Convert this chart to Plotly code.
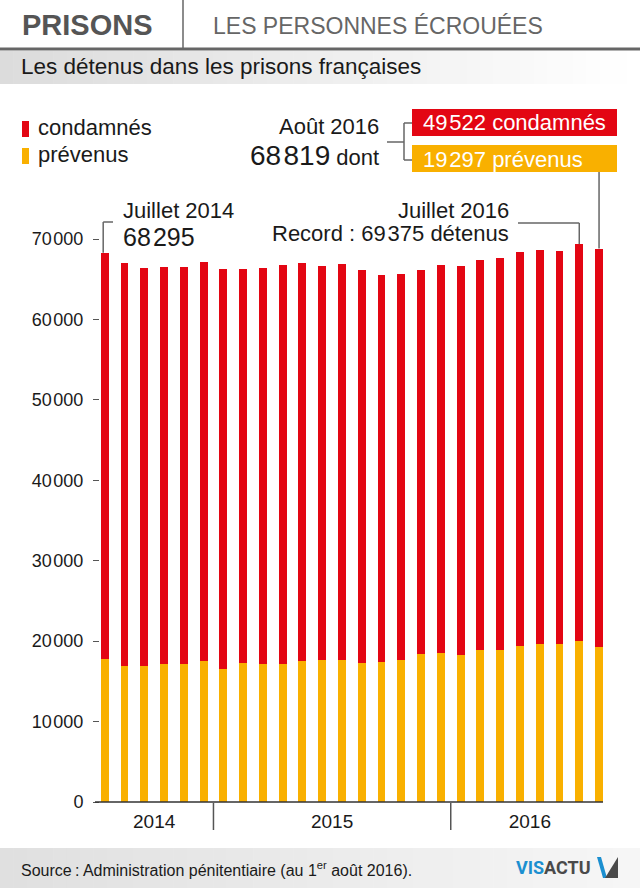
import plotly.graph_objects as go

# ---------------- data ----------------
months = ["2014-07", "2014-08", "2014-09", "2014-10", "2014-11", "2014-12",
          "2015-01", "2015-02", "2015-03", "2015-04", "2015-05", "2015-06",
          "2015-07", "2015-08", "2015-09", "2015-10", "2015-11", "2015-12",
          "2016-01", "2016-02", "2016-03", "2016-04", "2016-05", "2016-06",
          "2016-07", "2016-08"]
condamnes = [50495, 50079, 49413, 49329, 49330, 49542,
             49700, 49001, 49286, 49619, 49377, 48995,
             49202, 48795, 48043, 48080, 47757, 48210,
             48455, 48380, 48630, 48957, 48999, 48913,
             49295, 49522]
prevenus = [17800, 16970, 16930, 17140, 17180, 17550,
            16560, 17300, 17140, 17140, 17590, 17680,
            17640, 17300, 17470, 17640, 18420, 18590,
            18220, 18960, 18960, 19380, 19670, 19590,
            20080, 19297]
years = ["2014", "2015", "2016"]
year_tick_pos = [2.5, 11.5, 21.5]
year_separators = [5.5, 17.5]
ytick_vals = [0, 10000, 20000, 30000, 40000, 50000, 60000, 70000]

RED = "#e30613"
ORANGE = "#f9b000"
FONT = "Liberation Sans, Arial, sans-serif"
W, H = 640, 888
ML, MR, MT, MB = 100, 37, 223, 86
XR = [-0.238, 25.2]
YMAX = 72000

totals = [c + p for c, p in zip(condamnes, prevenus)]
xs = list(range(len(months)))


def fmt(v):
    return f"{v:,}".replace(",", "\u200a")


PW = W - ML - MR
PH = H - MT - MB


def px(p):
    return (p - ML) / PW


def py(p):
    return (H - MB - p) / PH


def dx(i):
    return (i - XR[0]) / (XR[1] - XR[0])


def dy(v):
    return v / YMAX


fig = go.Figure()
fig.add_bar(x=xs, y=prevenus, name="prévenus", marker_color=ORANGE,
            marker_line_width=0, width=0.4, hovertext=months)
fig.add_bar(x=xs, y=condamnes, name="condamnés", marker_color=RED,
            marker_line_width=0, width=0.4, hovertext=months)

shapes = []
ann = []


def line(x0, y0, x1, y1, color="#666", w=1.5):
    shapes.append(dict(type="line", xref="paper", yref="paper", x0=x0, y0=y0,
                       x1=x1, y1=y1, line=dict(color=color, width=w)))


def rect(x0, y0, x1, y1, color):
    shapes.append(dict(type="rect", xref="paper", yref="paper", x0=x0, y0=y0,
                       x1=x1, y1=y1, fillcolor=color, line_width=0, layer="below"))


def text(t, x, y, size=22, color="#1a1a1a", xanchor="left", family=FONT):
    ann.append(dict(text=t, xref="paper", yref="paper", x=x, y=y, xanchor=xanchor,
                    yanchor="middle", showarrow=False,
                    font=dict(size=size, color=color, family=family)))


def grad(x0p, x1p, y0p, y1p, c0, c1, n=48):
    for k in range(n):
        t = k / (n - 1)
        c = tuple(int(round(a + (b - a) * t)) for a, b in zip(c0, c1))
        xa = x0p + (x1p - x0p) * k / n
        xb = x0p + (x1p - x0p) * (k + 1) / n + 0.5
        rect(px(xa), py(y0p), px(xb), py(y1p), "rgb(%d,%d,%d)" % c)


# header
line(px(183), py(0), px(183), py(48), "#666", 1.5)
line(px(0), py(49), px(640), py(49), "#666", 3)
text("<b>PRISONS</b>", px(20), py(25), 29, "#555")
text("LES PERSONNES ÉCROUÉES", px(211), py(26), 23, "#666")
grad(0, 640, 51, 84, (220, 220, 220), (255, 255, 255))
text("Les détenus dans les prisons françaises", px(19), py(67), 22.5, "#1a1a1a")

# legend
rect(px(22), py(121), px(29), py(137), RED)
rect(px(22), py(148), px(29), py(164), ORANGE)
text("condamnés", px(36), py(127), 22)
text("prévenus", px(36), py(154), 22)

# August 2016 block
last = len(months) - 1
text("Août 2016", px(381), py(126), 22, xanchor="right")
text("<span style='font-size:28px'>" + fmt(totals[last]) + "</span> dont",
     px(381), py(156), 22, xanchor="right")
line(px(387), py(142), px(404), py(142))
line(px(404), py(123), px(404), py(160))
line(px(404), py(123), px(412), py(123))
line(px(404), py(160), px(412), py(160))
rect(px(412), py(109), px(617), py(136), RED)
rect(px(412), py(145), px(617), py(172), ORANGE)
text(fmt(condamnes[last]) + " condamnés", px(421), py(123), 22, "white")
text(fmt(prevenus[last]) + " prévenus", px(421), py(159), 22, "white")
line(dx(last), dy(totals[last]), dx(last), py(172))

# July 2014
text("Juillet 2014", px(121), py(210), 22)
text(fmt(totals[0]), px(121), py(237), 25)
line(dx(0) - 0.003, dy(totals[0]), dx(0) - 0.003, py(222))
line(dx(0) - 0.003, py(222), px(113), py(222))

# record July 2016
rec = max(range(len(totals)), key=lambda i: totals[i])
text("Juillet 2016", px(511), py(210), 22, xanchor="right")
text("Record\u00a0: " + fmt(totals[rec]) + " détenus", px(511), py(233), 22, xanchor="right")
line(dx(rec), dy(totals[rec]), dx(rec), py(223))
line(dx(rec), py(223), px(518), py(223))

# baseline and year separators
line(px(95), 0, px(603), 0, "#333", 1.5)
for s in year_separators:
    line(dx(s), py(803), dx(s), py(830), "#555", 1.5)

# footer
grad(0, 640, 848, 888, (224, 224, 224), (246, 246, 246))
text("Source\u2009: Administration pénitentiaire (au 1<sup>er</sup> août 2016).",
     px(19), py(869), 16, "#1a1a1a")
text("<b><span style='color:#1b8fd0'>VIS</span>ACTU</b>", px(593), py(867), 18, "#4a4a4a",
     xanchor="right", family="Liberation Sans Narrow, Arial Narrow, Roboto, sans-serif")
shapes.append(dict(type="path", xref="paper", yref="paper",
                   path="M %f,%f L %f,%f L %f,%f L %f,%f Z" % (
                       px(597), py(857), px(601), py(857), px(607), py(878), px(603), py(878)),
                   fillcolor="#1b8fd0", line_width=0))
shapes.append(dict(type="path", xref="paper", yref="paper",
                   path="M %f,%f L %f,%f L %f,%f Z" % (
                       px(605), py(878), px(618), py(857), px(618), py(878)),
                   fillcolor="#4a4a4a", line_width=0))

fig.update_layout(
    width=W, height=H, margin=dict(l=ML, r=MR, t=MT, b=MB),
    barmode="stack", showlegend=False,
    paper_bgcolor="white", plot_bgcolor="white",
    font=dict(family=FONT, color="#1a1a1a"),
    shapes=shapes, annotations=ann,
    xaxis=dict(range=XR, showgrid=False, zeroline=False, showline=False,
               tickvals=year_tick_pos, ticktext=years, ticks="",
               tickfont=dict(size=19, color="#1a1a1a"), ticklabelstandoff=6),
    yaxis=dict(range=[0, YMAX], showgrid=False, zeroline=False, showline=False,
               tickvals=ytick_vals, ticktext=[fmt(v) for v in ytick_vals],
               ticks="outside", ticklen=6, tickcolor="#555", tickwidth=1.2,
               tickfont=dict(size=18, color="#1a1a1a"), ticklabelstandoff=6),
)

fig.write_html("out.html", config={"displayModeBar": False},
               post_script="document.body.style.margin='0';")
